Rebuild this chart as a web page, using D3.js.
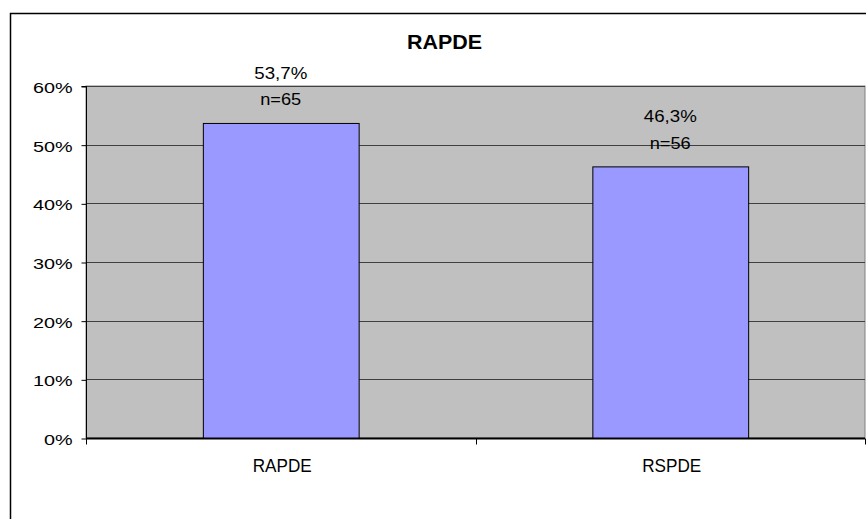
<!DOCTYPE html>
<html><head><meta charset="utf-8">
<script src="https://cdn.jsdelivr.net/npm/d3@7"></script>
<style>body{margin:0;background:#fff}svg{display:block}text{font-family:"Liberation Sans",Arial,sans-serif}</style>
</head><body>
<script>
const categories = ["RAPDE", "RSPDE"];
const values = [53.7, 46.3];
const counts = [65, 56];
const valueLabels = ["53,7%", "46,3%"];
const yTicks = [0, 10, 20, 30, 40, 50, 60];
const title = "RAPDE";

const W = 866, H = 519;
const svg = d3.select("body").append("svg").attr("width", W).attr("height", H);
// outer chart frame
svg.append("rect").attr("x", 10.5).attr("y", 13.5).attr("width", 870).attr("height", 520)
  .attr("fill", "#fff").attr("stroke", "#000").attr("stroke-width", 1.5);

const L = 86, R = 865, T = 86, B = 438;
const x = d3.scaleBand().domain(categories).range([L, R]).paddingInner(0.6).paddingOuter(0.3);
const y = d3.scaleLinear().domain([0, 60]).range([B, T]);

// horizontal stretch helper: reference text is widened; factor derived from the first label's target width
function stretch(sel, targetFirst) {
  const nodes = sel.nodes();
  const factor = targetFirst / nodes[nodes.length - 1].getComputedTextLength();
  sel.each(function () {
    const w = this.getComputedTextLength();
    d3.select(this).attr("textLength", w * factor).attr("lengthAdjust", "spacingAndGlyphs");
  });
}

svg.append("rect").attr("x", L).attr("y", T).attr("width", R - L).attr("height", B - T)
  .attr("fill", "#c0c0c0").attr("stroke", "#808080").attr("stroke-width", 1);

svg.append("g").selectAll("line").data(yTicks.filter(d => d > 0)).join("line")
  .attr("x1", L).attr("x2", R).attr("y1", d => Math.round(y(d)) + 0.5).attr("y2", d => Math.round(y(d)) + 0.5)
  .attr("stroke", "#404040").attr("stroke-width", 1);

svg.append("g").selectAll("rect").data(values).join("rect")
  .attr("x", (d, i) => x(categories[i]) + 0.5).attr("y", d => y(d) + 0.5)
  .attr("width", x.bandwidth()).attr("height", d => B - y(d))
  .attr("fill", "#9999ff").attr("stroke", "#000").attr("stroke-width", 1);

// y axis
const yAxis = svg.append("g").attr("transform", `translate(${L + 0.5},0.5)`)
  .call(d3.axisLeft(y).tickValues(yTicks).tickFormat(d => d + "%").tickSize(5).tickPadding(9));
yAxis.select(".domain").attr("stroke", "#000").attr("d", `M-5,${T}H0V${B}`);
yAxis.selectAll(".tick line").attr("stroke", "#000");
const yt = yAxis.selectAll("text").attr("font-size", 15.5).attr("fill", "#000")
  .attr("font-family", "Liberation Sans, Arial, sans-serif").attr("dy", "0.38em");
stretch(yt, 39.6); // "60%"

// x axis
const xb = svg.append("g").attr("transform", `translate(0,${B + 0.5})`);
xb.append("line").attr("x1", L).attr("x2", R).attr("stroke", "#000").attr("stroke-width", 2);
const bounds = [L, (L + R) / 2, R];
xb.selectAll("line.tk").data(bounds).join("line").attr("class", "tk")
  .attr("x1", d => Math.round(d) + 0.5).attr("x2", d => Math.round(d) + 0.5).attr("y1", 0).attr("y2", 6)
  .attr("stroke", "#000");
const xt = xb.selectAll("text").data(categories).join("text")
  .attr("x", d => x(d) + x.bandwidth() / 2 + 1.5).attr("y", 33.5).attr("text-anchor", "middle")
  .attr("font-size", 17.5).text(d => d);
stretch(xt, 59);

// value labels
const lbl = svg.append("g");
const vt = lbl.selectAll("text.v").data(values).join("text").attr("class", "v")
  .attr("x", (d, i) => x(categories[i]) + x.bandwidth() / 2).attr("y", d => y(d) - 44)
  .attr("text-anchor", "middle").attr("font-size", 17).text((d, i) => valueLabels[i]);
stretch(vt, 53);
const nt = lbl.selectAll("text.n").data(values).join("text").attr("class", "n")
  .attr("x", (d, i) => x(categories[i]) + x.bandwidth() / 2).attr("y", d => y(d) - 17.5)
  .attr("text-anchor", "middle").attr("font-size", 16.5).text((d, i) => "n=" + counts[i]);
stretch(nt, 41);

const tt = svg.append("text").attr("x", 444.5).attr("y", 49).attr("text-anchor", "middle")
  .attr("font-size", 19.5).attr("font-weight", "bold").text(title);
stretch(tt, 75);
</script>
</body></html>
